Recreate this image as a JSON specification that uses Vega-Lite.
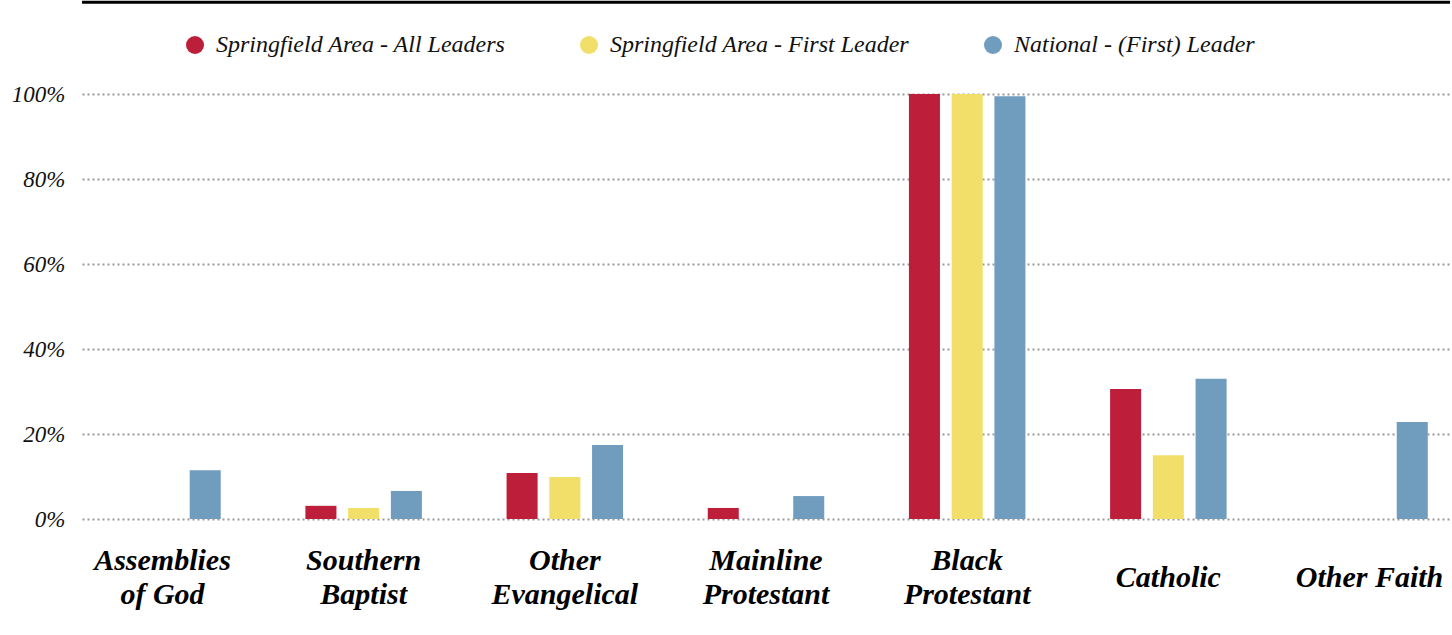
{
  "$schema": "https://vega.github.io/schema/vega-lite/v6.json",
  "autosize": {"type": "none"},
  "padding": {"left": 82, "top": 94, "right": 2, "bottom": 116},
  "width": 1368,
  "height": 425,
  "background": "#ffffff",
  "config": {
    "view": {"stroke": null},
    "font": "Liberation Serif"
  },
  "datasets": {
    "bars": [
      {"denomination": "Assemblies|of God", "series": "National - (First) Leader", "pct": 11.5},
      {"denomination": "Southern|Baptist", "series": "Springfield Area - All Leaders", "pct": 3.1},
      {"denomination": "Southern|Baptist", "series": "Springfield Area - First Leader", "pct": 2.6},
      {"denomination": "Southern|Baptist", "series": "National - (First) Leader", "pct": 6.6},
      {"denomination": "Other|Evangelical", "series": "Springfield Area - All Leaders", "pct": 10.8},
      {"denomination": "Other|Evangelical", "series": "Springfield Area - First Leader", "pct": 9.9},
      {"denomination": "Other|Evangelical", "series": "National - (First) Leader", "pct": 17.4},
      {"denomination": "Mainline|Protestant", "series": "Springfield Area - All Leaders", "pct": 2.6},
      {"denomination": "Mainline|Protestant", "series": "National - (First) Leader", "pct": 5.4},
      {"denomination": "Black|Protestant", "series": "Springfield Area - All Leaders", "pct": 100},
      {"denomination": "Black|Protestant", "series": "Springfield Area - First Leader", "pct": 100},
      {"denomination": "Black|Protestant", "series": "National - (First) Leader", "pct": 99.5},
      {"denomination": "Catholic", "series": "Springfield Area - All Leaders", "pct": 30.6},
      {"denomination": "Catholic", "series": "Springfield Area - First Leader", "pct": 15.0},
      {"denomination": "Catholic", "series": "National - (First) Leader", "pct": 33.0},
      {"denomination": "Other Faith", "series": "National - (First) Leader", "pct": 22.8}
    ],
    "topline": [{"level": 121.6}]
  },
  "layer": [
    {
      "data": {"name": "topline"},
      "mark": {"type": "rule", "color": "#000000", "strokeWidth": 3},
      "encoding": {
        "y": {"field": "level", "type": "quantitative", "scale": {"domain": [0, 100]}}
      }
    },
    {
      "data": {"name": "bars"},
      "mark": {"type": "bar"},
      "encoding": {
        "x": {
          "field": "denomination",
          "type": "nominal",
          "sort": ["Assemblies|of God", "Southern|Baptist", "Other|Evangelical", "Mainline|Protestant", "Black|Protestant", "Catholic", "Other Faith"],
          "scale": {"paddingInner": 0.2, "paddingOuter": 0},
          "axis": {
            "title": null,
            "domain": false,
            "ticks": false,
            "labelAngle": 0,
            "labelExpr": "split(datum.label, '|')",
            "labelFont": "Liberation Serif",
            "labelFontStyle": "italic",
            "labelFontWeight": "bold",
            "labelFontSize": 30,
            "labelLineHeight": 34,
            "labelColor": "#000000",
            "labelBaseline": {
              "condition": {"test": "datum.value == 'Catholic' || datum.value == 'Other Faith'", "value": "line-top"},
              "value": "middle"
            },
            "labelPadding": 41,
            "labelLimit": 0
          }
        },
        "xOffset": {
          "field": "series",
          "type": "nominal",
          "sort": ["Springfield Area - All Leaders", "Springfield Area - First Leader", "National - (First) Leader"],
          "scale": {"paddingInner": 0.274, "paddingOuter": 0.52}
        },
        "y": {
          "field": "pct",
          "type": "quantitative",
          "scale": {"domain": [0, 100]},
          "axis": {
            "title": null,
            "domain": false,
            "ticks": false,
            "values": [0, 20, 40, 60, 80, 100],
            "labelExpr": "datum.value + '%'",
            "labelFont": "Liberation Serif",
            "labelFontStyle": "italic",
            "labelFontSize": 23,
            "labelColor": "#111111",
            "labelPadding": 17,
            "grid": true,
            "gridColor": "#999999",
            "gridWidth": 2,
            "gridDash": [2, 3]
          }
        },
        "color": {
          "field": "series",
          "type": "nominal",
          "sort": ["Springfield Area - All Leaders", "Springfield Area - First Leader", "National - (First) Leader"],
          "scale": {
            "domain": ["Springfield Area - All Leaders", "Springfield Area - First Leader", "National - (First) Leader"],
            "range": ["#BD1E3A", "#F1DF69", "#709DBE"]
          },
          "legend": {
            "title": null,
            "orient": "none",
            "legendX": 101,
            "legendY": -61,
            "direction": "horizontal",
            "symbolType": "circle",
            "symbolSize": 324,
            "symbolStrokeWidth": 0,
            "labelFont": "Liberation Serif",
            "labelFontStyle": "italic",
            "labelFontSize": 24,
            "labelColor": "#111111",
            "labelOffset": 9,
            "labelLimit": 0,
            "columnPadding": 71
          }
        }
      }
    }
  ]
}
